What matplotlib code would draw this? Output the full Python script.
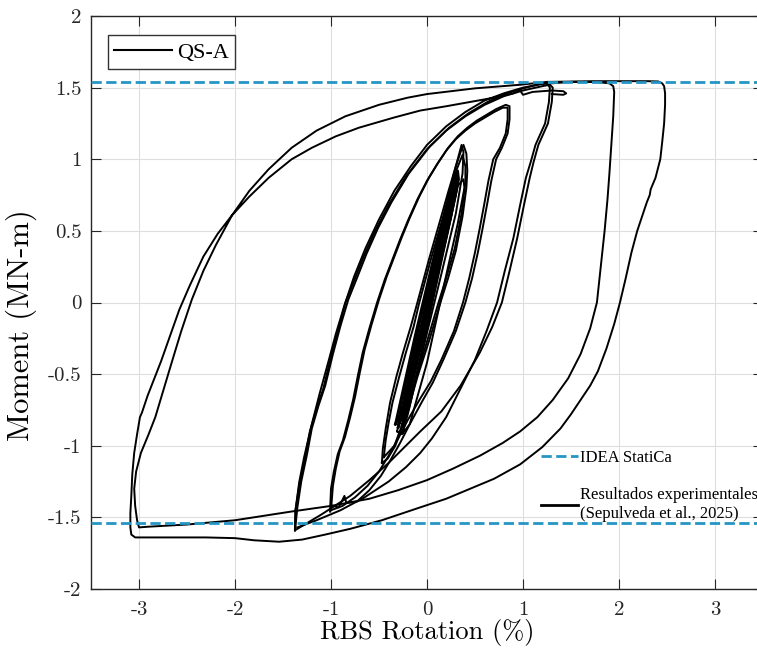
import numpy as np
import matplotlib
matplotlib.use("Agg")
import matplotlib.pyplot as plt
from matplotlib.lines import Line2D

plt.rcParams["axes.unicode_minus"] = False
plt.rcParams["axes.formatter.use_mathtext"] = False

# IDEA StatiCa capacity (MN-m)
idea_moment = 1.54

# hysteresis branches: (rotation %, moment MN-m)
elastic_1 = [(-0.30, -0.87), (-0.22, -0.60), (-0.08, -0.15), (0.08, 0.30), (0.22, 0.68), (0.32, 0.92),
             (0.33, 0.86), (0.25, 0.60), (0.12, 0.22), (-0.05, -0.25), (-0.20, -0.68), (-0.30, -0.87)]
elastic_2 = [(-0.27, -0.82), (-0.18, -0.55), (-0.04, -0.12), (0.10, 0.30), (0.22, 0.64), (0.30, 0.86),
             (0.30, 0.80), (0.21, 0.52), (0.08, 0.14), (-0.08, -0.33), (-0.21, -0.70), (-0.27, -0.82)]
elastic_3 = [(-0.24, -0.76), (-0.14, -0.45), (0.00, -0.02), (0.12, 0.36), (0.22, 0.64), (0.28, 0.80),
             (0.28, 0.74), (0.18, 0.44), (0.04, 0.02), (-0.10, -0.40), (-0.20, -0.66), (-0.24, -0.76)]
elastic_4 = [(-0.22, -0.72), (-0.12, -0.40), (0.02, 0.04), (0.14, 0.42), (0.24, 0.70), (0.27, 0.78),
             (0.25, 0.66), (0.15, 0.36), (0.02, -0.05), (-0.12, -0.46), (-0.22, -0.72)]
elastic_5 = [(-0.33, -0.85), (-0.26, -0.64), (-0.12, -0.22), (0.05, 0.26), (0.20, 0.66), (0.31, 0.84),
             (0.30, 0.76), (0.20, 0.46), (0.06, 0.06), (-0.12, -0.42), (-0.26, -0.76), (-0.33, -0.85)]
elastic_6 = [(-0.29, -0.84), (-0.20, -0.58), (-0.06, -0.16), (0.08, 0.26), (0.20, 0.60), (0.29, 0.83),
             (0.29, 0.78), (0.22, 0.56), (0.10, 0.20), (-0.04, -0.22), (-0.18, -0.62), (-0.29, -0.84)]
elastic_7 = [(-0.26, -0.86), (-0.16, -0.56), (-0.02, -0.12), (0.12, 0.32), (0.24, 0.70), (0.31, 0.88),
             (0.32, 0.82), (0.23, 0.54), (0.10, 0.14), (-0.06, -0.36), (-0.19, -0.74), (-0.26, -0.86)]
cycle_035_a = [(-0.31, -0.90), (-0.27, -0.70), (-0.10, -0.20), (0.10, 0.40), (0.28, 0.90), (0.36, 1.10),
               (0.38, 1.05), (0.37, 0.90), (0.30, 0.62), (0.15, 0.20), (-0.05, -0.35), (-0.20, -0.78),
               (-0.26, -0.92), (-0.31, -0.90)]
cycle_035_b = [(-0.25, -0.91), (-0.20, -0.72), (-0.05, -0.25), (0.12, 0.30), (0.30, 0.80), (0.38, 0.86),
               (0.39, 0.80), (0.32, 0.55), (0.17, 0.10), (0.00, -0.42), (-0.18, -0.85), (-0.25, -0.91)]
cycle_05_a = [(-0.47, -1.12), (-0.46, -1.02), (-0.43, -0.88), (-0.385, -0.70), (-0.32, -0.52), (-0.25, -0.35),
              (-0.17, -0.17), (-0.10, 0.00), (0.02, 0.30), (0.14, 0.58), (0.22, 0.77), (0.30, 0.95),
              (0.36, 1.07), (0.38, 1.10), (0.41, 1.04), (0.42, 0.92), (0.41, 0.80), (0.37, 0.60),
              (0.30, 0.36), (0.22, 0.17), (0.14, 0.00), (0.03, -0.25), (-0.10, -0.52), (-0.22, -0.80),
              (-0.33, -1.00), (-0.41, -1.09), (-0.47, -1.12)]
cycle_05_b = [(-0.45, -1.08), (-0.43, -0.96), (-0.40, -0.84), (-0.36, -0.70), (-0.29, -0.52), (-0.22, -0.35),
              (-0.14, -0.17), (-0.08, 0.00), (0.04, 0.30), (0.16, 0.58), (0.24, 0.77), (0.31, 0.93),
              (0.37, 1.03), (0.40, 0.95), (0.40, 0.84), (0.36, 0.62), (0.29, 0.38), (0.20, 0.17),
              (0.12, 0.00), (0.01, -0.25), (-0.12, -0.54), (-0.24, -0.82), (-0.34, -1.00), (-0.45, -1.08)]
cycle_1_a = [(-1.01, -1.46), (-1.00, -1.30), (-0.97, -1.18), (-0.93, -1.06), (-0.875, -0.96), (-0.82, -0.82),
             (-0.77, -0.68), (-0.72, -0.51), (-0.67, -0.35), (-0.60, -0.18), (-0.52, 0.00), (-0.44, 0.16),
             (-0.36, 0.30), (-0.28, 0.44), (-0.20, 0.57), (-0.10, 0.72), (0.00, 0.85), (0.10, 0.96),
             (0.20, 1.06), (0.30, 1.14), (0.40, 1.20), (0.50, 1.25), (0.60, 1.29), (0.70, 1.33),
             (0.79, 1.36), (0.84, 1.36), (0.84, 1.28), (0.82, 1.18), (0.76, 1.08), (0.69, 1.00),
             (0.64, 0.85), (0.60, 0.70), (0.55, 0.52), (0.50, 0.35), (0.44, 0.17), (0.375, 0.00),
             (0.28, -0.20), (0.15, -0.40), (0.04, -0.55), (-0.07, -0.67), (-0.20, -0.82), (-0.30, -0.95),
             (-0.40, -1.07), (-0.50, -1.18), (-0.62, -1.28), (-0.75, -1.36), (-0.88, -1.42), (-1.00, -1.45)]
cycle_1_b = [(-1.00, -1.45), (-0.98, -1.28), (-0.95, -1.16), (-0.91, -1.04), (-0.855, -0.94), (-0.80, -0.80),
             (-0.75, -0.66), (-0.70, -0.49), (-0.65, -0.33), (-0.58, -0.16), (-0.50, 0.02), (-0.42, 0.18),
             (-0.34, 0.32), (-0.26, 0.46), (-0.18, 0.59), (-0.08, 0.74), (0.02, 0.87), (0.12, 0.98),
             (0.22, 1.08), (0.32, 1.16), (0.42, 1.22), (0.52, 1.27), (0.62, 1.31), (0.72, 1.35),
             (0.82, 1.38), (0.86, 1.37), (0.86, 1.28), (0.84, 1.18), (0.78, 1.08), (0.72, 1.00),
             (0.67, 0.85), (0.63, 0.70), (0.58, 0.52), (0.53, 0.35), (0.47, 0.17), (0.40, 0.00),
             (0.30, -0.20), (0.17, -0.40), (0.06, -0.56), (-0.05, -0.69), (-0.18, -0.85), (-0.28, -0.98),
             (-0.38, -1.10), (-0.48, -1.21), (-0.60, -1.31), (-0.73, -1.39), (-0.84, -1.40), (-0.86, -1.35),
             (-0.89, -1.39), (-0.92, -1.43), (-0.98, -1.42)]
cycle_15_a = [(-1.375, -1.59), (-1.37, -1.45), (-1.33, -1.27), (-1.27, -1.08), (-1.22, -0.90), (-1.15, -0.74),
              (-1.08, -0.60), (-1.00, -0.38), (-0.92, -0.18), (-0.85, 0.00), (-0.76, 0.15), (-0.66, 0.32),
              (-0.54, 0.50), (-0.40, 0.68), (-0.22, 0.88), (0.00, 1.07), (0.20, 1.20), (0.40, 1.30),
              (0.60, 1.38), (0.80, 1.44), (1.00, 1.48), (1.20, 1.51), (1.28, 1.52), (1.31, 1.50),
              (1.30, 1.40), (1.26, 1.25), (1.16, 1.10), (1.11, 0.98), (1.07, 0.87), (1.01, 0.68),
              (0.94, 0.45), (0.86, 0.22), (0.78, 0.00), (0.68, -0.17), (0.55, -0.35), (0.35, -0.58),
              (0.15, -0.76), (-0.07, -0.90), (-0.25, -1.02), (-0.40, -1.12), (-0.60, -1.24), (-0.80, -1.35),
              (-1.10, -1.48), (-1.30, -1.56), (-1.375, -1.59)]
cycle_15_b = [(-1.375, -1.59), (-1.35, -1.43), (-1.31, -1.25), (-1.25, -1.06), (-1.20, -0.88), (-1.13, -0.72),
              (-1.06, -0.58), (-0.98, -0.36), (-0.90, -0.16), (-0.82, 0.02), (-0.73, 0.17), (-0.63, 0.34),
              (-0.51, 0.52), (-0.37, 0.70), (-0.19, 0.90), (0.03, 1.09), (0.23, 1.22), (0.43, 1.32),
              (0.63, 1.40), (0.83, 1.46), (1.03, 1.50), (1.20, 1.53), (1.25, 1.53), (1.28, 1.50),
              (1.27, 1.40), (1.23, 1.25), (1.13, 1.10), (1.08, 0.98), (1.03, 0.87), (0.97, 0.68),
              (0.90, 0.45), (0.81, 0.22), (0.73, 0.00), (0.62, -0.20), (0.50, -0.40), (0.35, -0.60),
              (0.20, -0.80), (0.05, -0.95), (-0.07, -1.05), (-0.22, -1.15), (-0.40, -1.25), (-0.65, -1.36),
              (-0.90, -1.45), (-1.15, -1.52), (-1.35, -1.57)]
# +2 % excursion, then the two -3 % / +2.5 % cycles and the final reload
cycle_large = [(-1.375, -1.59), (-1.37, -1.45), (-1.33, -1.25), (-1.28, -1.08), (-1.20, -0.85), (-1.12, -0.64),
               (-1.03, -0.42), (-0.95, -0.22), (-0.86, -0.02), (-0.76, 0.18), (-0.64, 0.38), (-0.50, 0.58),
               (-0.34, 0.78), (-0.17, 0.95), (0.00, 1.10), (0.20, 1.23), (0.40, 1.33), (0.60, 1.41),
               (0.80, 1.46), (1.00, 1.50), (1.20, 1.525), (1.50, 1.54), (1.75, 1.54), (1.90, 1.53),
               (1.94, 1.51),
               (1.95, 1.47), (1.94, 1.30), (1.92, 1.10), (1.90, 0.90), (1.88, 0.72), (1.85, 0.50),
               (1.81, 0.25), (1.77, 0.00), (1.70, -0.18), (1.60, -0.36), (1.47, -0.53), (1.31, -0.68),
               (1.15, -0.80), (0.97, -0.90), (0.79, -0.98), (0.55, -1.07), (0.27, -1.16), (0.00, -1.24),
               (-0.30, -1.31), (-0.60, -1.37), (-1.00, -1.42), (-1.42, -1.46), (-2.00, -1.52), (-2.50, -1.55),
               (-2.90, -1.565), (-3.00, -1.57),
               (-3.02, -1.52), (-3.04, -1.42), (-3.05, -1.30), (-3.03, -1.18), (-2.98, -1.05), (-2.90, -0.92),
               (-2.83, -0.80), (-2.75, -0.62), (-2.66, -0.42), (-2.56, -0.20), (-2.45, 0.02), (-2.33, 0.22),
               (-2.20, 0.40), (-2.03, 0.61), (-1.85, 0.78), (-1.65, 0.93), (-1.41, 1.08), (-1.15, 1.20),
               (-0.85, 1.30), (-0.50, 1.38), (-0.20, 1.43), (0.00, 1.455), (0.50, 1.495), (0.97, 1.52),
               (1.25, 1.54), (1.80, 1.545), (2.30, 1.545), (2.41, 1.543), (2.45, 1.53),
               (2.47, 1.51), (2.48, 1.46), (2.48, 1.38), (2.47, 1.25), (2.45, 1.12), (2.43, 1.00),
               (2.38, 0.87), (2.33, 0.79), (2.32, 0.75), (2.29, 0.70), (2.25, 0.62), (2.19, 0.50),
               (2.13, 0.35), (2.07, 0.17), (2.01, 0.00), (1.95, -0.15), (1.87, -0.32), (1.78, -0.48),
               (1.70, -0.58), (1.60, -0.68), (1.50, -0.78), (1.39, -0.88), (1.20, -1.01), (0.97, -1.13),
               (0.70, -1.23), (0.45, -1.30), (0.20, -1.37), (-0.07, -1.43), (-0.47, -1.52), (-0.80, -1.58),
               (-1.06, -1.62), (-1.30, -1.655), (-1.54, -1.67), (-1.80, -1.66), (-2.00, -1.645), (-2.30, -1.64),
               (-2.58, -1.64), (-2.90, -1.64), (-3.04, -1.64), (-3.08, -1.62),
               (-3.09, -1.57), (-3.09, -1.47), (-3.08, -1.35), (-3.07, -1.20), (-3.05, -1.05), (-3.02, -0.92),
               (-2.99, -0.80), (-2.97, -0.77), (-2.91, -0.65), (-2.84, -0.53), (-2.77, -0.41), (-2.68, -0.24),
               (-2.58, -0.05), (-2.47, 0.12), (-2.33, 0.32), (-2.18, 0.48), (-2.03, 0.61), (-1.85, 0.74),
               (-1.65, 0.87), (-1.41, 1.00), (-1.20, 1.08), (-0.95, 1.16), (-0.71, 1.22), (-0.35, 1.29),
               (-0.07, 1.34), (0.20, 1.37), (0.45, 1.40), (0.70, 1.43), (0.90, 1.46), (0.97, 1.48),
               (1.00, 1.45), (1.10, 1.47), (1.30, 1.48), (1.42, 1.475), (1.45, 1.46), (1.42, 1.45),
               (1.30, 1.455)]

elastic = [elastic_1, elastic_2, elastic_3, elastic_4, elastic_5, elastic_6, elastic_7]
cycles = [cycle_035_a, cycle_035_b, cycle_05_a, cycle_05_b, cycle_1_a, cycle_1_b,
          cycle_15_a, cycle_15_b, cycle_large]

idea_color = "#2596c4"
cm_font = "cmr10"
txt_font = "Liberation Serif"

fig = plt.figure(figsize=(7.57, 6.54), dpi=100)
ax = fig.add_axes([91 / 757, 1 - 589 / 654, 672 / 757, 573 / 654])

for b in elastic:
    pts = np.array(b)
    ax.plot(pts[:, 0], pts[:, 1], color="black", lw=1.8, zorder=3, solid_joinstyle="round")
for b in cycles:
    pts = np.array(b)
    ax.plot(pts[:, 0], pts[:, 1], color="black", lw=1.4, zorder=3, solid_joinstyle="round")

ax.axhline(idea_moment, color=idea_color, lw=2, ls="--", zorder=4)
ax.axhline(-idea_moment, color=idea_color, lw=2, ls="--", zorder=4)

ax.set_xlim(-3.5, 3.5)
ax.set_ylim(-2, 2)
ax.set_xticks(np.arange(-3, 4, 1))
ax.set_yticks(np.arange(-2, 2.01, 0.5))
ax.set_xticklabels(["-3", "-2", "-1", "0", "1", "2", "3"])
ax.set_yticklabels(["-2", "-1.5", "-1", "-0.5", "0", "0.5", "1", "1.5", "2"])
ax.tick_params(direction="in", length=7, top=True, right=True, width=0.8, colors="#262626",
               labelsize=15)
ax.tick_params(axis="y", pad=7)
ax.tick_params(axis="x", pad=9)
for lab in ax.get_xticklabels() + ax.get_yticklabels():
    lab.set_family(cm_font)
ax.grid(True, color="#dedede", lw=0.8)
ax.set_axisbelow(True)
for s in ax.spines.values():
    s.set_color("#262626")
    s.set_linewidth(1.0)

ax.set_xlabel("RBS Rotation (%)", family=cm_font, fontsize=19, labelpad=0)
ax.set_ylabel("Moment (MN-m)", family=cm_font, fontsize=22)
ax.yaxis.set_label_coords(-0.081, 0.46)

# test id legend (top left)
leg1 = ax.legend([Line2D([], [], color="black", lw=1.5)], ["QS-A"], loc="upper left",
                 bbox_to_anchor=(0.025, 0.966), prop={"family": txt_font, "size": 16},
                 fancybox=False, edgecolor="#333333", framealpha=1, handlelength=2.6,
                 handletextpad=0.2, borderpad=0.3, borderaxespad=0)
leg1.get_frame().set_linewidth(1.0)
ax.add_artist(leg1)

# reference legend (lower right)
h_idea = Line2D([], [], color=idea_color, lw=2, ls="--")
h_test = Line2D([], [], color="black", lw=2)
ax.legend([h_idea, h_test], ["IDEA StatiCa", "Resultados experimentales\n(Sepulveda et al., 2025)"],
          loc="upper left", bbox_to_anchor=(0.66, 0.255), frameon=False,
          prop={"family": txt_font, "size": 12}, handlelength=2.2, handletextpad=0.1,
          labelspacing=1.3, borderaxespad=0)

fig.savefig("out.png", dpi=100)
